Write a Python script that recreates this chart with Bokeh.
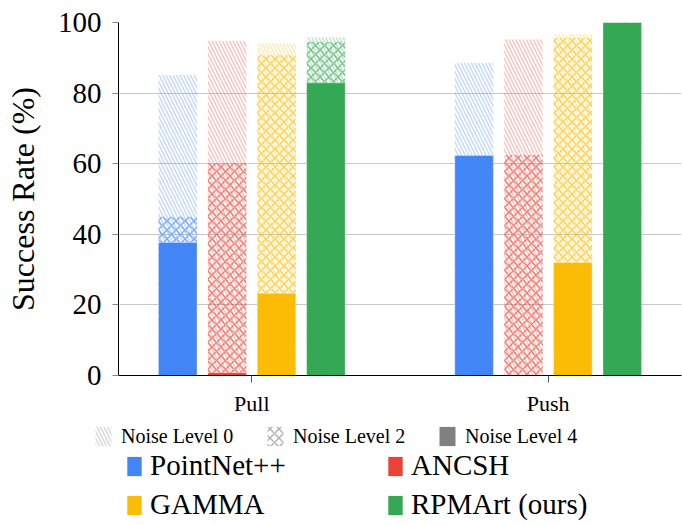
import numpy as np
from bokeh.plotting import figure
from bokeh.models import FixedTicker, Legend, LegendItem, Range1d, ColumnDataSource
from bokeh.embed import file_html
from bokeh.resources import INLINE

# ---------------- data ----------------
tasks = ["Pull", "Push"]
methods = ["PointNet++", "ANCSH", "GAMMA", "RPMArt (ours)"]
colors = ["#4285F4", "#EA4335", "#FBBC05", "#34A853"]
noise_labels = ["Noise Level 0", "Noise Level 2", "Noise Level 4"]
# success rate (%) per method, ordered as tasks [Pull, Push]
noise0 = {"PointNet++": [85.1, 88.6], "ANCSH": [94.8, 95.2],
          "GAMMA": [94.1, 96.7], "RPMArt (ours)": [95.8, 100.0]}
noise2 = {"PointNet++": [45.0, 62.3], "ANCSH": [60.1, 62.5],
          "GAMMA": [90.7, 95.6], "RPMArt (ours)": [94.5, 100.0]}
noise4 = {"PointNet++": [37.7, 62.3], "ANCSH": [0.8, 0.0],
          "GAMMA": [23.3, 32.0], "RPMArt (ours)": [82.9, 100.0]}
y_ticks = [0, 20, 40, 60, 80, 100]

FONT = "Liberation Serif"
GRAY = "#808080"

p = figure(width=682, height=418, x_range=Range1d(-0.45, 1.45), y_range=Range1d(0, 100),
           output_backend="svg", toolbar_location=None,
           min_border_left=118, min_border_right=1, min_border_top=22, min_border_bottom=42)
p.outline_line_color = None
p.xgrid.grid_line_color = None
p.ygrid.grid_line_color = "#c8c8c8"
p.ygrid.grid_line_width = 1.2
p.ygrid.ticker = FixedTicker(ticks=y_ticks)

# y axis
p.yaxis.ticker = FixedTicker(ticks=y_ticks)
p.yaxis.axis_label = "Success Rate (%)"
p.yaxis.axis_label_text_font = FONT
p.yaxis.axis_label_text_font_style = "normal"
p.yaxis.axis_label_text_font_size = "32px"
p.yaxis.axis_label_text_color = "black"
p.yaxis.axis_label_standoff = 14
p.yaxis.major_label_text_font = FONT
p.yaxis.major_label_text_font_size = "29px"
p.yaxis.major_label_text_color = "black"
p.yaxis.major_label_standoff = 11
p.yaxis.major_tick_out = 6
p.yaxis.major_tick_in = 0
p.yaxis.major_tick_line_color = "#888888"
p.yaxis.minor_tick_line_color = None
p.yaxis.axis_line_color = "black"

# x axis
p.xaxis.ticker = FixedTicker(ticks=list(range(len(tasks))))
p.xaxis.major_label_overrides = {i: t for i, t in enumerate(tasks)}
p.xaxis.major_label_text_font = FONT
p.xaxis.major_label_text_font_size = "22px"
p.xaxis.major_label_text_color = "black"
p.xaxis.major_label_standoff = 8
p.xaxis.major_tick_out = 7
p.xaxis.major_tick_in = 0
p.xaxis.major_tick_line_color = "#555555"
p.xaxis.minor_tick_line_color = None
p.xaxis.axis_line_color = "black"

offsets = (np.arange(len(methods)) - (len(methods) - 1) / 2) / 6.0
width = 0.13
xs = np.arange(len(tasks))

for i, (m, c) in enumerate(zip(methods, colors)):
    src = ColumnDataSource(dict(x=xs + offsets[i], n0=noise0[m], n2=noise2[m], n4=noise4[m]))
    p.vbar(x="x", top="n0", width=width, source=src, fill_alpha=0, line_color=None,
           hatch_pattern="left_diagonal_line", hatch_color=c, hatch_alpha=0.3,
           hatch_scale=7, hatch_weight=1.5)
    p.vbar(x="x", top="n2", width=width, source=src, fill_alpha=0, line_color=None,
           hatch_pattern="diagonal_cross", hatch_color=c, hatch_alpha=0.6,
           hatch_scale=9, hatch_weight=1.5)
    p.vbar(x="x", top="n4", width=width, source=src, fill_color=c,
           line_color="white", line_alpha=0.35, line_width=1)

# ---------------- legend figure (separate root, frame covers whole canvas) ----------------
lf = figure(width=682, height=107, x_range=Range1d(0, 1), y_range=Range1d(0, 1),
            output_backend="svg", toolbar_location=None,
            x_axis_type=None, y_axis_type=None,
            min_border_left=0, min_border_right=0, min_border_top=0, min_border_bottom=0)
lf.outline_line_color = None
lf.xgrid.visible = False
lf.ygrid.visible = False

# legend-only proxies placed outside the visible range
proxy = dict(x=[5], top=[5], bottom=[4], width=0.1)
method_renderers = [lf.vbar(**proxy, fill_color=c, line_color=None) for c in colors]
n0r = lf.vbar(**proxy, fill_alpha=0, line_color=None, hatch_pattern="left_diagonal_line",
              hatch_color=GRAY, hatch_alpha=0.3, hatch_scale=7, hatch_weight=1.5)
n2r = lf.vbar(**proxy, fill_alpha=0, line_color=None, hatch_pattern="diagonal_cross",
              hatch_color=GRAY, hatch_alpha=0.6, hatch_scale=9, hatch_weight=1.5)
n4r = lf.vbar(**proxy, fill_color=GRAY, line_color=None)

leg1 = Legend(items=[LegendItem(label=noise_labels[k], renderers=[r])
                     for k, r in enumerate([n0r, n2r, n4r])],
              location=(93, 77), orientation="horizontal",
              glyph_width=20, glyph_height=24, label_standoff=8, label_width=128,
              spacing=16, padding=0, margin=0,
              label_text_font=FONT, label_text_font_size="20px", label_text_color="black",
              border_line_color=None, background_fill_alpha=0)
leg2 = Legend(items=[LegendItem(label=m, renderers=[r]) for m, r in zip(methods, method_renderers)],
              location=(125, 4), orientation="horizontal", ncols=2,
              glyph_width=18, glyph_height=24, label_standoff=7, label_width=230,
              spacing=6, padding=0, margin=0, label_height=30,
              label_text_font=FONT, label_text_font_size="29px", label_text_color="black",
              border_line_color=None, background_fill_alpha=0)
lf.add_layout(leg1, "center")
lf.add_layout(leg2, "center")

open("out.html", "w").write(file_html([p, lf], INLINE))
